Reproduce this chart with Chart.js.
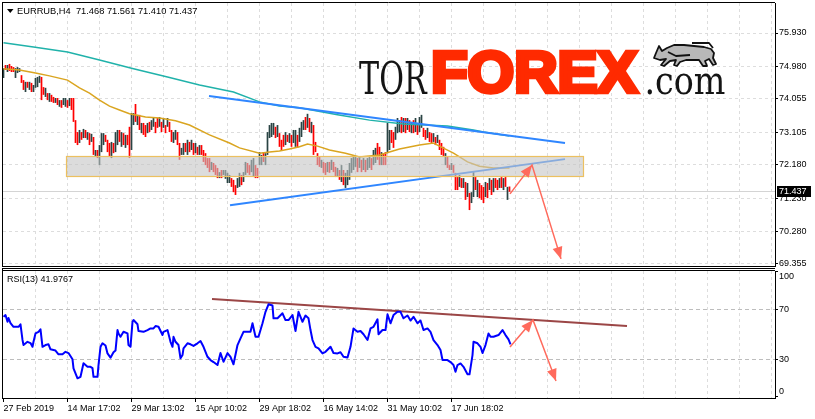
<!DOCTYPE html>
<html><head><meta charset="utf-8">
<script src="https://cdn.jsdelivr.net/npm/chart.js@4.4.1/dist/chart.umd.min.js"></script>
<style>
html,body{margin:0;padding:0;background:#fff;overflow:hidden}
#wrap{position:relative;width:815px;height:419px;background:#fff}
.pane{position:absolute;left:0;width:815px}
</style></head><body>
<div id="wrap">
<div class="pane" style="top:0;height:268px"><canvas id="cMain" width="815" height="268"></canvas></div>
<div class="pane" style="top:268px;height:151px"><canvas id="cRsi" width="815" height="151"></canvas></div>
</div>
<script>
// ---------------- DATA ----------------
const symbolTitle = 'EURRUB,H4';
const lastOHLC = [71.468, 71.561, 71.410, 71.437];
const rsiTitle = 'RSI(13)';
const rsiLast = 41.9767;

const priceTicks = [69.355, 70.280, 71.230, 72.180, 73.105, 74.055, 74.980, 75.930];
const rsiTicks = [0, 30, 70, 100];
const rsiLevels = [30, 70];
const timeLabels = ['27 Feb 2019','14 Mar 17:02','29 Mar 13:02','15 Apr 10:02','29 Apr 18:02','16 May 14:02','31 May 10:02','17 Jun 18:02'];
const labelBars = [0, 32, 64, 96, 128, 160, 192, 224];
const gridBars = [0,16,32,48,64,80,96,112,128,144,160,176,192,208,224,240,256,272,288,304,320,336,352,368,384];

const highs = [
74.93,75.02,75.02,75.05,74.99,74.96,74.93,74.96,74.93,74.73,
74.59,74.54,74.54,74.54,74.51,74.45,74.65,74.68,74.71,74.68,
74.39,74.37,74.22,74.22,74.17,74.11,74.08,74.08,74.02,74.02,
74.08,74.08,74.02,74.08,74.08,74.08,73.45,73.11,73.17,73.11,
73.20,73.17,73.11,73.08,73.06,72.97,72.60,72.60,72.74,73.08,
73.08,73.03,72.89,72.80,72.83,72.80,73.11,73.17,73.17,73.11,
73.08,73.03,73.03,73.26,73.65,73.65,73.91,73.60,73.60,73.37,
73.37,73.31,73.37,73.40,73.45,73.54,73.40,73.51,73.54,73.40,
73.51,73.31,73.51,73.40,73.17,73.11,73.17,73.11,72.80,72.66,
72.80,72.80,72.89,72.83,72.89,72.80,72.80,72.69,72.74,72.74,
72.60,72.51,72.37,72.37,72.26,72.23,72.17,72.09,71.97,72.03,
72.03,72.03,71.95,71.89,71.80,71.75,71.60,71.80,71.95,71.89,
71.97,72.26,72.23,72.17,72.32,72.37,72.17,72.09,72.54,72.46,
72.54,72.51,73.11,73.31,73.37,73.37,73.26,73.31,73.08,72.89,
73.03,73.11,73.03,73.08,73.03,73.17,73.17,73.03,73.23,73.40,
73.45,73.54,73.63,73.51,73.40,73.31,72.83,72.51,72.40,72.32,
72.26,72.23,72.26,72.26,72.32,72.26,72.12,72.09,72.03,72.17,
72.03,71.95,72.03,72.23,72.37,72.40,72.40,72.37,72.40,72.32,
72.37,72.32,72.37,72.40,72.37,72.60,72.66,72.80,72.69,72.54,
72.51,72.54,73.37,73.17,73.17,73.11,73.26,73.51,73.45,73.54,
73.51,73.51,73.51,73.45,73.40,73.45,73.51,73.37,73.54,73.60,
73.23,73.17,73.23,73.11,73.08,73.08,72.97,73.03,72.89,72.80,
72.69,72.51,72.40,72.17,72.23,72.17,71.95,71.83,71.89,71.80,
71.80,71.69,71.66,71.38,71.40,71.97,71.83,71.75,71.66,71.60,
71.55,71.69,71.66,71.80,71.75,71.80,71.80,71.75,71.80,71.83,
71.80,71.83,71.55,71.561];

const lows = [
74.65,74.88,74.82,74.85,74.82,74.82,74.65,74.79,74.82,74.51,
74.31,74.25,74.37,74.31,74.25,74.25,74.37,74.39,74.51,74.02,
74.17,74.11,74.02,73.97,73.97,73.94,73.94,73.88,73.83,73.80,
73.88,73.83,73.80,73.85,73.74,73.40,72.80,72.74,72.80,72.89,
72.94,72.94,72.89,72.74,72.83,72.46,72.40,72.37,72.17,72.54,
72.74,72.83,72.54,72.40,72.37,72.51,72.54,72.74,72.83,72.69,
72.74,72.66,72.74,72.37,72.60,73.31,73.40,73.31,73.17,73.08,
73.03,72.97,73.08,73.11,73.17,73.26,73.08,73.23,73.26,73.11,
73.23,73.08,73.26,73.11,72.83,72.80,72.89,72.74,72.32,72.46,
72.46,72.54,72.46,72.54,72.60,72.46,72.51,72.46,72.46,72.46,
72.26,72.17,72.09,71.97,72.03,71.97,71.89,71.80,71.80,71.80,
71.89,71.78,71.66,71.66,71.55,71.40,71.32,71.52,71.55,71.60,
71.69,71.89,71.95,71.89,71.97,71.83,71.80,71.80,72.17,72.17,
72.26,72.17,72.46,72.94,72.97,73.03,72.94,72.97,72.69,72.60,
72.69,72.74,72.83,72.80,72.69,72.80,72.69,72.66,72.83,72.97,
73.17,73.17,73.23,73.11,73.08,72.46,72.54,72.17,72.12,72.09,
71.95,71.89,71.97,71.95,72.03,71.97,71.83,71.83,71.75,71.69,
71.60,71.52,71.60,71.75,71.95,72.03,72.12,71.97,72.09,71.97,
72.03,71.97,72.03,72.09,72.03,72.17,72.23,72.32,72.17,72.17,
72.17,72.17,72.51,72.60,72.80,72.66,72.89,73.08,73.11,73.08,
73.11,73.08,73.17,73.11,73.08,73.08,73.11,73.03,73.11,73.23,
72.97,72.89,72.94,72.83,72.80,72.83,72.74,72.80,72.60,72.46,
72.40,72.17,72.09,72.03,72.03,71.95,71.46,71.46,71.55,71.52,
71.52,71.18,71.26,70.89,71.09,71.26,71.46,71.26,71.23,71.18,
71.09,71.26,71.23,71.46,71.32,71.40,71.52,71.46,71.52,71.52,
71.46,71.55,71.18,71.410];

// u = bar closed above its open, d = closed below
const barDirection = [
'ududdduuud','dududuuuud','dududdudud','uududdddud','ududududuu',
'uddduduudu','dudduududu','dduduuddud','ududduuddu','ududududud',
'ddddudddud','uuuuddduud','uudduudduu','duuuuududd','dududuuduu',
'udududdddu','ddududdudu','duuuuuudud','uduuduuddu','dduudduuud',
'ududududuu','dduddududd','duddudddud','ududuududd','dudududdud','udud'].join('');

const maSlowBars   = [0, 15, 32, 48, 65, 82, 98, 115, 128, 138, 148, 167, 183, 200, 222, 235, 240, 253];
const maSlowValues = [75.65,75.53,75.39,75.16,74.91,74.68,74.45,74.25,73.97,73.85,73.80,73.60,73.45,73.34,73.28,73.17,73.11,73.00];

const maFastBars   = [0,8,16,23,32,38,43,48,53,58,63,71,78,86,93,103,113,118,128,133,138,143,148,152,157,163,171,178,188,198,208,215,218,225,232,238,245,253];
const maFastValues = [74.91,74.88,74.79,74.71,74.59,74.37,74.22,74.02,73.85,73.74,73.63,73.54,73.51,73.43,73.31,73.03,72.80,72.66,72.51,72.54,72.57,72.63,72.69,72.77,72.71,72.60,72.51,72.40,72.46,72.63,72.74,72.80,72.71,72.51,72.26,72.14,72.09,72.09];

const upperTrendBars = [102.75, 280.75], upperTrendValues = [74.14, 72.80];
const lowerTrendBars = [113.25, 280.75], lowerTrendValues = [71.03, 72.34];
const zoneBars = [31.25, 289.75], zoneValues = [71.86, 72.43];
const forecastBars = [253.25, 264.25, 278.75], forecastValues = [71.35, 72.17, 69.50];

const rsiBars = [0,1,2,2.5,3.5,5,7.5,8.5,9.5,10,12,13.5,14.5,15,16,17.5,18.5,19.5,21,22.5,23.5,26,27.5,29.5,31,32.5,34.5,35,37,38.5,40,42,43.5,44.5,45,47,47.5,48.5,49.5,51,52,53.5,55,56,57,57.5,58.5,60,62,62.5,63.5,64.5,65,67,67.5,70,72,73.5,75,76,77.5,79.5,80,82,83.5,84.5,85,86,87.5,88.5,89.5,90,92,93.5,95,97,98.5,100,102,103.5,105,107,108.5,110,112,113.5,115,117,118.5,120,123.5,124.5,126,127.5,129.5,131,132.5,134.5,135,137,139.5,141,142.5,144.5,146,147.5,149.5,151,152.5,153.5,154.5,156,157.5,159.5,161,163.5,165,167,168.5,170,172,173.5,175,177,178.5,180,182,183.5,185,187,187.5,189.5,191,192,193.5,195,197,198.5,200,202,203.5,205,207,208.5,210,212,213.5,215,217,218.5,219.5,222,223.5,225,226,227,228.5,230,232,233,234.5,235,237,238.5,239.5,241,242.5,243.5,245,247.5,249.5,251,252.5,253.5];
const rsiValues = [64,65.4,60,63,59,56,56,58,45.5,41.4,44,43,40,44,50.7,52,54,40,41.4,42,38,37,34,34,36,35,30,22.8,14.8,16,26.8,24,24,23,16,16,25.4,40,42.8,41,34.7,31.3,35.6,37,53.4,50.7,48,52,50.7,41.4,40,60,61.4,58,52.6,52,53.4,54.7,54.7,56.6,56,49.4,52,53.4,44,40,48,44,41.4,30.8,33.4,38.8,42.8,42,40.7,42.8,44.6,40,32,29.4,27.8,25.4,35,28,35,32,26,41.4,46.8,52,52,58.8,48,48,58.8,68,74,73,62.8,62.8,66.8,61.4,61.4,65.4,52.6,68,60,65,62.8,53.4,45.4,40,38.8,34.7,36,40,35,34.7,35.6,32,31.4,40,54.7,52,52.6,50,45.4,54.7,56,62,50,53.4,53.4,66,58.8,65.4,68,68,62.8,65,61,64,58.8,61,53.4,54.7,52,45.4,41.4,37.4,29.4,29.4,27.8,25.4,20,25.4,26.7,24,18,18,33.4,44,42.8,40,35,41.4,50.7,48,48,49.4,53.4,49.4,46,42];

const rsiTrendBars = [104.25, 311.75], rsiTrendValues = [78.2, 56.6];
const rsiForecastBars = [253.25, 264.75, 276.25], rsiForecastValues = [39.8, 61.4, 12.6];

// ---------------- STYLE ----------------
const FONT = "'Liberation Sans', Arial, sans-serif";
const SLAB = "'DejaVu Serif', serif";
Chart.defaults.font.family = FONT;
Chart.defaults.font.size = 9;
Chart.defaults.color = '#000';
const GRID = '#dddddd';
const UP = '#2a4444', DOWN = '#ff0000';
const ARROW = '#ff6a5c';

const pts = (xs, ys) => xs.map((x, i) => ({x, y: ys[i]}));
const noPad = s => { s.paddingTop = 0; s.paddingBottom = 0; s.paddingLeft = 0; s.paddingRight = 0; };
const xBase = () => ({
  type: 'linear', min: -0.25, max: 385.75, offset: false,
  afterBuildTicks: s => { s.ticks = gridBars.map(v => ({value: v})); },
});

function arrowHead(ctx, x0, y0, x1, y1, color) {
  const a = Math.atan2(y1 - y0, x1 - x0), L = 12, W = 5;
  ctx.save(); ctx.fillStyle = color; ctx.beginPath();
  ctx.moveTo(x1, y1);
  ctx.lineTo(x1 - L*Math.cos(a) + W*Math.sin(a), y1 - L*Math.sin(a) - W*Math.cos(a));
  ctx.lineTo(x1 - L*Math.cos(a) - W*Math.sin(a), y1 - L*Math.sin(a) + W*Math.cos(a));
  ctx.closePath(); ctx.fill(); ctx.restore();
}
function hline(ctx, x1, x2, y) { ctx.beginPath(); ctx.moveTo(x1, y); ctx.lineTo(x2, y); ctx.stroke(); }
function vline(ctx, x, y1, y2) { ctx.beginPath(); ctx.moveTo(x, y1); ctx.lineTo(x, y2); ctx.stroke(); }

function fitText(ctx, text, weight, family, left, baseline, width, refH, refChar, stroke) {
  ctx.save();
  ctx.textBaseline = 'alphabetic'; ctx.textAlign = 'left';
  ctx.font = weight + ' 100px ' + family;
  const ref = ctx.measureText(refChar);
  const size = 100 * refH / ref.actualBoundingBoxAscent;
  ctx.font = weight + ' ' + size.toFixed(2) + 'px ' + family;
  const m = ctx.measureText(text);
  const w = m.actualBoundingBoxLeft + m.actualBoundingBoxRight;
  const sx = width / w;
  ctx.translate(left, baseline); ctx.scale(sx, 1);
  ctx.fillText(text, m.actualBoundingBoxLeft, 0);
  if (stroke) { ctx.lineWidth = stroke / sx; ctx.lineJoin = 'miter'; ctx.strokeText(text, m.actualBoundingBoxLeft, 0); }
  ctx.restore();
}

function drawBull(ctx) {
  ctx.save();
  ctx.beginPath();
  const p = [[654,58],[656,53],[659,46],[662,51],[667,48],[674,45],[684,45],[694,46],[704,47],[711,49],[714,53],[713,58],[716,64],[713,65],[709,59],[705,61],[707,66],[703,66],[699,60],[686,60],[680,62],[677,66],[674,65],[676,60],[670,61],[664,66],[661,65],[666,59],[660,60]];
  ctx.moveTo(p[0][0], p[0][1]);
  for (const q of p.slice(1)) ctx.lineTo(q[0], q[1]);
  ctx.closePath();
  ctx.fillStyle = '#b8b8b8'; ctx.fill();
  ctx.strokeStyle = '#111'; ctx.lineWidth = 1.8; ctx.lineJoin = 'round'; ctx.stroke();
  ctx.beginPath(); ctx.moveTo(692, 43); ctx.lineTo(709, 43); ctx.lineTo(713, 48); ctx.stroke();
  ctx.beginPath(); ctx.moveTo(668, 52); ctx.lineTo(676, 56); ctx.lineTo(690, 55); ctx.stroke();
  ctx.restore();
}

// ---------------- MAIN PRICE CHART ----------------
const mainPlugin = {
  id: 'mainDeco',
  beforeDatasetsDraw(chart) {
    const {ctx, chartArea: a, scales: {y}} = chart;
    const py = Math.round(y.getPixelForValue(lastOHLC[3])) + 0.5;
    ctx.save(); ctx.strokeStyle = '#d4d4d4'; ctx.lineWidth = 1; hline(ctx, a.left, a.right, py); ctx.restore();
  },
  afterDatasetDraw(chart, args) {
    if (chart.data.datasets[args.index].label !== 'lowerTrend') return;
    const {ctx, scales: {x, y}} = chart;
    const xa = x.getPixelForValue(zoneBars[0]), xb = x.getPixelForValue(zoneBars[1]);
    const ya = y.getPixelForValue(zoneValues[1]), yb = y.getPixelForValue(zoneValues[0]);
    ctx.save();
    ctx.fillStyle = 'rgba(196,196,196,0.6)';
    ctx.fillRect(xa, ya, xb - xa, yb - ya);
    ctx.strokeStyle = '#ecc060'; ctx.lineWidth = 1.2;
    ctx.strokeRect(Math.round(xa) + 0.5, Math.round(ya) + 0.5, Math.round(xb - xa), Math.round(yb - ya));
    ctx.restore();
  },
  afterDatasetsDraw(chart) {
    const {ctx, scales: {x, y}} = chart;
    const P = forecastBars.map((b, i) => [x.getPixelForValue(b), y.getPixelForValue(forecastValues[i])]);
    arrowHead(ctx, P[0][0], P[0][1], P[1][0], P[1][1], ARROW);
    arrowHead(ctx, P[1][0], P[1][1], P[2][0], P[2][1], ARROW);
  },
  afterDraw(chart) {
    const {ctx, chartArea: a, scales: {y}} = chart;
    ctx.save();
    ctx.strokeStyle = '#000'; ctx.lineWidth = 1;
    vline(ctx, a.left - 0.5, a.top - 1, a.bottom + 1);
    hline(ctx, a.left - 1, a.right, a.top - 0.5);
    hline(ctx, a.left - 1, a.right, a.bottom + 0.5);
    // logo
    ctx.fillStyle = '#141414';
    fitText(ctx, 'TOR', 'normal', SLAB, 359, 94, 69, 32, 'T', 0);
    ctx.fillStyle = '#ff2a00'; ctx.strokeStyle = '#ff2a00';
    fitText(ctx, 'FOREX', 'bold', FONT, 434, 92, 204, 40, 'F', 4.5);
    ctx.fillStyle = '#141414';
    fitText(ctx, '.com', 'normal', SLAB, 647, 94, 78, 21, 'o', 0);
    drawBull(ctx);
    // title
    ctx.fillStyle = '#000';
    ctx.beginPath(); ctx.moveTo(7, 9); ctx.lineTo(13.5, 9); ctx.lineTo(10.25, 13); ctx.closePath(); ctx.fill();
    ctx.font = '9.3px ' + FONT; ctx.textBaseline = 'middle'; ctx.textAlign = 'left';
    ctx.fillText(symbolTitle + '  ' + lastOHLC.map(v => v.toFixed(3)).join(' '), 17, 11.5);
    // current price tag
    const py = y.getPixelForValue(lastOHLC[3]);
    ctx.fillStyle = '#000'; ctx.fillRect(777, Math.round(py) - 5, 34, 11);
    ctx.fillStyle = '#fff'; ctx.font = '9px ' + FONT;
    ctx.fillText(lastOHLC[3].toFixed(3), 779, Math.round(py) + 0.5);
    ctx.restore();
  }
};

new Chart(document.getElementById('cMain'), {
  type: 'line',
  data: { datasets: [
    { type: 'bar', label: 'bars', order: 10, data: highs.map((h, i) => ({x: i, y: [lows[i], h]})),
      backgroundColor: highs.map((h, i) => barDirection[i] === 'u' ? UP : DOWN),
      barThickness: 1.7, maxBarThickness: 1.7, borderWidth: 0, borderSkipped: false, inflateAmount: 0 },
    { label: 'maSlow', order: 9, data: pts(maSlowBars, maSlowValues), borderColor: '#20b2aa', borderWidth: 1.5, pointRadius: 0, tension: 0 },
    { label: 'maFast', order: 8, data: pts(maFastBars, maFastValues), borderColor: '#daa520', borderWidth: 1.5, pointRadius: 0, tension: 0 },
    { label: 'upperTrend', order: 7, data: pts(upperTrendBars, upperTrendValues), borderColor: '#2f86ff', borderWidth: 2, pointRadius: 0 },
    { label: 'lowerTrend', order: 6, data: pts(lowerTrendBars, lowerTrendValues), borderColor: '#2f86ff', borderWidth: 2, pointRadius: 0 },
    { label: 'forecast', order: 1, data: pts(forecastBars, forecastValues), borderColor: ARROW, borderWidth: 1.5, pointRadius: 0 },
  ]},
  options: {
    responsive: false, animation: false, events: [], devicePixelRatio: 1,
    layout: { padding: { left: 3, top: 3, right: 0, bottom: 2 } },
    plugins: { legend: { display: false }, tooltip: { enabled: false } },
    scales: {
      x: Object.assign(xBase(), {
        ticks: { display: false },
        grid: { offset: false, color: c => (c.tick && c.tick.value === 0) ? 'rgba(0,0,0,0)' : GRID, drawTicks: false, lineWidth: 1 },
        border: { display: false, dash: [3, 3] },
        afterFit: s => { s.height = 0; noPad(s); },
      }),
      y: {
        type: 'linear', position: 'right', min: 69.298, max: 76.784, beginAtZero: false, stacked: false,
        afterBuildTicks: s => { s.ticks = priceTicks.map(v => ({value: v})); },
        afterFit: s => { s.width = 40; noPad(s); },
        ticks: { callback: v => v.toFixed(3), padding: 1, autoSkip: false, color: '#000', font: { size: 9 } },
        grid: { color: GRID, tickColor: '#000', tickLength: 3, tickBorderDash: [] },
        border: { display: true, color: '#000', width: 1, dash: [3, 3] },
      }
    }
  },
  plugins: [mainPlugin]
});

// ---------------- RSI CHART ----------------
const rsiPlugin = {
  id: 'rsiDeco',
  afterDatasetsDraw(chart) {
    const {ctx, scales: {x, y}} = chart;
    const P = rsiForecastBars.map((b, i) => [x.getPixelForValue(b), y.getPixelForValue(rsiForecastValues[i])]);
    arrowHead(ctx, P[0][0], P[0][1], P[1][0], P[1][1], ARROW);
    arrowHead(ctx, P[1][0], P[1][1], P[2][0], P[2][1], ARROW);
  },
  afterDraw(chart) {
    const {ctx, chartArea: a, scales: {y}} = chart;
    ctx.save();
    ctx.strokeStyle = '#000'; ctx.lineWidth = 1;
    hline(ctx, a.left - 1, a.right, 0.5);
    hline(ctx, a.left - 1, a.right, a.top - 0.5);
    hline(ctx, a.left - 1, a.right, a.bottom + 0.5);
    vline(ctx, a.left - 0.5, 0, a.bottom + 1);
    ctx.fillStyle = '#000'; ctx.font = '9px ' + FONT; ctx.textBaseline = 'middle'; ctx.textAlign = 'left';
    ctx.fillText(rsiTitle + ' ' + rsiLast.toFixed(4), 7, 11.5);
    for (const v of rsiTicks) {
      const py = Math.min(Math.max(y.getPixelForValue(v), a.top + 6), a.bottom - 6);
      ctx.fillText(String(v), 779, py);
    }
    ctx.restore();
  }
};

new Chart(document.getElementById('cRsi'), {
  type: 'line',
  data: { datasets: [
    { label: 'rsiTrend', order: 3, data: pts(rsiTrendBars, rsiTrendValues), borderColor: '#9b4646', borderWidth: 2, pointRadius: 0 },
    { label: 'rsi', order: 2, data: pts(rsiBars, rsiValues), borderColor: '#0000ff', borderWidth: 2, pointRadius: 0, tension: 0, borderJoinStyle: 'round' },
    { label: 'rsiForecast', order: 1, data: pts(rsiForecastBars, rsiForecastValues), borderColor: ARROW, borderWidth: 1.5, pointRadius: 0 },
  ]},
  options: {
    responsive: false, animation: false, events: [], devicePixelRatio: 1,
    layout: { padding: { left: 3, top: 3, right: 0, bottom: 0 } },
    plugins: { legend: { display: false }, tooltip: { enabled: false } },
    scales: {
      x: Object.assign(xBase(), {
        ticks: {
          autoSkip: false, maxRotation: 0, minRotation: 0, align: 'start', padding: 1, color: '#000', font: { size: 9 },
          callback: v => { const k = labelBars.indexOf(v); return k >= 0 ? timeLabels[k] : ''; }
        },
        grid: {
          offset: false,
          color: c => (c.tick && c.tick.value === 0) ? 'rgba(0,0,0,0)' : GRID,
          tickColor: c => (c.tick && labelBars.includes(c.tick.value)) ? '#000' : 'rgba(0,0,0,0)',
          tickLength: 4, tickBorderDash: []
        },
        border: { display: false, dash: [3, 3] },
        afterFit: s => { s.height = 21; noPad(s); },
      }),
      y: {
        type: 'linear', position: 'right', min: -0.96, max: 100.64,
        afterBuildTicks: s => { s.ticks = rsiTicks.map(v => ({value: v})); },
        afterFit: s => { s.width = 40; noPad(s); },
        ticks: { color: 'rgba(0,0,0,0)', padding: 1, autoSkip: false },
        grid: { color: c => (c.tick && rsiLevels.includes(c.tick.value)) ? '#bdbdbd' : 'rgba(0,0,0,0)', tickColor: '#000', tickLength: 3, tickBorderDash: [] },
        border: { display: true, color: '#000', width: 1, dash: [4, 3] },
      }
    }
  },
  plugins: [rsiPlugin]
});
</script>
</body></html>
